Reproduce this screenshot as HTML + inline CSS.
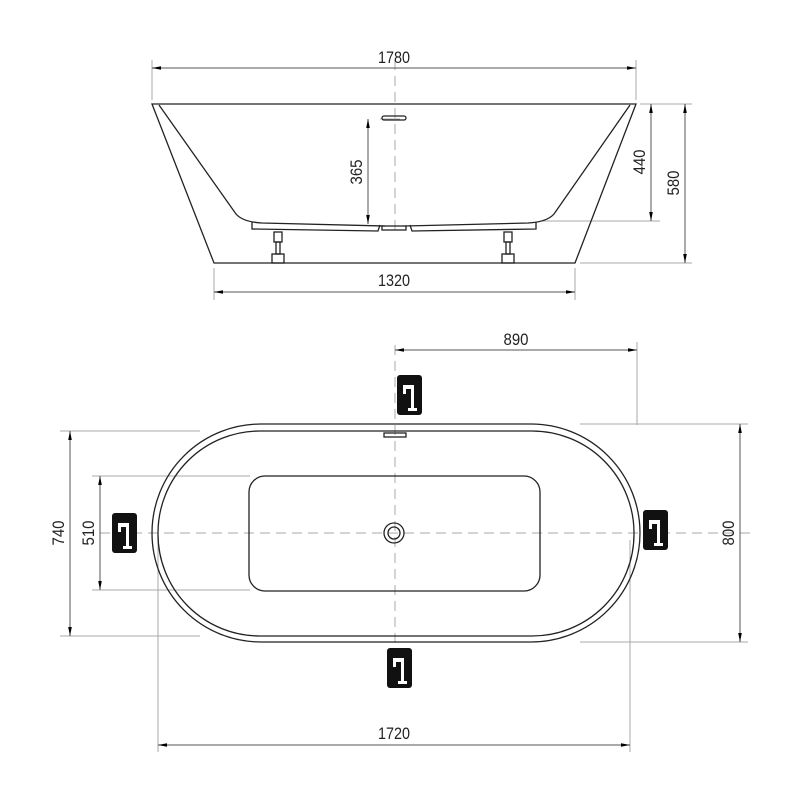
<!DOCTYPE html><html><head><style>body{margin:0;background:#fff}svg{display:block}</style></head><body>
<svg width="800" height="800" viewBox="0 0 800 800" xmlns="http://www.w3.org/2000/svg" font-family="Liberation Sans, sans-serif" font-size="17" fill="none">
<defs>
<marker id="a" viewBox="0 0 10 10" refX="10" refY="5" markerWidth="9" markerHeight="9" orient="auto-start-reverse" markerUnits="userSpaceOnUse"><path d="M0,3 L10,5 L0,7z" fill="#000"/></marker>
<g id="ic"><rect x="0" y="0" width="25" height="40" rx="3" fill="#111"/><path d="M6,10 H17 V33 H20 V36 H11 V33 H14 V14 H9 V19 H6 Z" fill="#fff"/></g>
</defs>
<g stroke="#aaa" stroke-width="1">
<line x1="152" y1="60" x2="152" y2="100"/><line x1="636" y1="60" x2="636" y2="100"/>
<line x1="214" y1="268" x2="214" y2="300"/><line x1="575" y1="268" x2="575" y2="300"/>
<line x1="380" y1="119" x2="400" y2="119"/>
<line x1="640" y1="104" x2="692" y2="104"/><line x1="540" y1="221" x2="660" y2="221"/><line x1="580" y1="263" x2="692" y2="263"/>
<line x1="637" y1="342" x2="637" y2="425"/>
<line x1="60" y1="431" x2="200" y2="431"/><line x1="60" y1="636" x2="200" y2="636"/>
<line x1="92" y1="476" x2="250" y2="476"/><line x1="92" y1="590" x2="250" y2="590"/>
<line x1="580" y1="424" x2="748" y2="424"/><line x1="580" y1="642" x2="748" y2="642"/>
<line x1="158" y1="540" x2="158" y2="752"/><line x1="630" y1="540" x2="630" y2="752"/>
</g>
<g stroke="#aaa" stroke-dasharray="10,6">
<line x1="395" y1="60" x2="395" y2="230"/>
<line x1="395" y1="345" x2="395" y2="665"/>
<line x1="100" y1="533" x2="750" y2="533"/>
</g>
<g stroke="#555" stroke-width="1" marker-start="url(#a)" marker-end="url(#a)">
<line x1="152" y1="68" x2="636" y2="68"/>
<line x1="214" y1="292" x2="575" y2="292"/>
<line x1="368" y1="119" x2="368" y2="224"/>
<line x1="651" y1="104" x2="651" y2="221"/>
<line x1="685" y1="104" x2="685" y2="263"/>
<line x1="395" y1="350" x2="637" y2="350"/>
<line x1="740" y1="424" x2="740" y2="642"/>
<line x1="70" y1="431" x2="70" y2="636"/>
<line x1="100" y1="476" x2="100" y2="590"/>
<line x1="158" y1="745" x2="630" y2="745"/>
</g>
<g stroke="#222" stroke-width="1.3">
<path d="M152,104 H636 L575,263 H214 Z"/>
<path d="M159,105 L236,214 Q243,222 262,223 L385,226 M405,226 L528,223 Q547,222 554,214 L630,105"/>
<path d="M252,222 V229 L378,231 L380,225 M410,225 L412,231 L536,229 V222"/>
<rect x="382" y="226" width="24" height="4"/>
<rect x="382" y="116" width="24" height="4" rx="2"/>
<rect x="274" y="232" width="8" height="10"/><rect x="276" y="242" width="4" height="12"/><rect x="272" y="254" width="12" height="9"/>
<rect x="504" y="232" width="8" height="10"/><rect x="506" y="242" width="4" height="12"/><rect x="502" y="254" width="12" height="9"/>
<rect x="152" y="424" width="488" height="218" rx="109"/>
<rect x="158" y="431" width="476" height="205" rx="102"/>
<rect x="249" y="476" width="291" height="115" rx="16"/>
<circle cx="394" cy="533" r="10"/><circle cx="394" cy="533" r="6"/>
<rect x="384" y="433" width="22" height="4"/>
</g>
<g fill="#222" text-anchor="middle" lengthAdjust="spacingAndGlyphs">
<text x="394" y="63" textLength="32" lengthAdjust="spacingAndGlyphs">1780</text>
<text x="394" y="286" textLength="32" lengthAdjust="spacingAndGlyphs">1320</text>
<text x="516" y="345" textLength="25" lengthAdjust="spacingAndGlyphs">890</text>
<text x="394" y="739" textLength="32" lengthAdjust="spacingAndGlyphs">1720</text>
<text transform="translate(362,172) rotate(-90)" textLength="25" lengthAdjust="spacingAndGlyphs">365</text>
<text transform="translate(645,162) rotate(-90)" textLength="25" lengthAdjust="spacingAndGlyphs">440</text>
<text transform="translate(679,183) rotate(-90)" textLength="25" lengthAdjust="spacingAndGlyphs">580</text>
<text transform="translate(64,533) rotate(-90)" textLength="25" lengthAdjust="spacingAndGlyphs">740</text>
<text transform="translate(94,533) rotate(-90)" textLength="25" lengthAdjust="spacingAndGlyphs">510</text>
<text transform="translate(734,533) rotate(-90)" textLength="25" lengthAdjust="spacingAndGlyphs">800</text>
</g>
<use href="#ic" x="397" y="375"/>
<use href="#ic" x="112" y="513"/>
<use href="#ic" x="643" y="510"/>
<use href="#ic" x="387" y="648"/>
</svg>
</body></html>
